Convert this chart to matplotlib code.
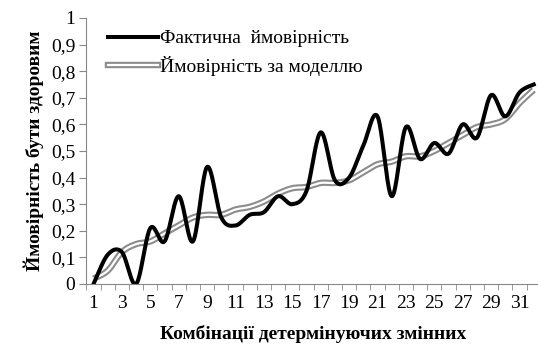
import numpy as np
import matplotlib
matplotlib.use("Agg")
import matplotlib.pyplot as plt
from matplotlib.lines import Line2D
from matplotlib.legend_handler import HandlerTuple

# combinations 1..32
combos = list(range(1, 33))
actual = [0.00, 0.11, 0.12, 0.00, 0.21, 0.16, 0.33, 0.16, 0.44, 0.25,
          0.22, 0.26, 0.27, 0.33, 0.30, 0.35, 0.57, 0.39, 0.40, 0.52,
          0.63, 0.33, 0.59, 0.47, 0.53, 0.49, 0.60, 0.55, 0.71, 0.63,
          0.72, 0.75]
model = [0.02, 0.05, 0.12, 0.15, 0.16, 0.19, 0.22, 0.25, 0.26, 0.26,
         0.28, 0.29, 0.31, 0.34, 0.36, 0.365, 0.38, 0.38, 0.39, 0.42,
         0.45, 0.46, 0.48, 0.48, 0.50, 0.53, 0.56, 0.59, 0.60, 0.62,
         0.68, 0.73]
xticks = list(range(1, 33, 2))
yticks = [0, 0.1, 0.2, 0.3, 0.4, 0.5, 0.6, 0.7, 0.8, 0.9, 1]
ylabels = ["0", "0,1", "0,2", "0,3", "0,4", "0,5", "0,6", "0,7", "0,8", "0,9", "1"]


def smooth(x, y, n=20):
    # excel-like smoothed line (bezier, tension 1/6)
    x = np.asarray(x, float)
    y = np.asarray(y, float)
    px = np.concatenate([[x[0]], x, [x[-1]]])
    py = np.concatenate([[y[0]], y, [y[-1]]])
    t = np.linspace(0, 1, n, endpoint=False)[:, None]
    outx, outy = [], []
    for i in range(1, len(px) - 2):
        p0 = np.array([px[i], py[i]])
        p3 = np.array([px[i + 1], py[i + 1]])
        c1 = p0 + (np.array([px[i + 1], py[i + 1]]) - np.array([px[i - 1], py[i - 1]])) / 6
        c2 = p3 - (np.array([px[i + 2], py[i + 2]]) - p0) / 6
        b = ((1 - t) ** 3) * p0 + 3 * ((1 - t) ** 2) * t * c1 + 3 * (1 - t) * t ** 2 * c2 + t ** 3 * p3
        outx.extend(b[:, 0])
        outy.extend(b[:, 1])
    outx.append(x[-1])
    outy.append(y[-1])
    return outx, outy


plt.rcParams['font.family'] = ['Liberation Serif', 'DejaVu Serif']

fig = plt.figure(figsize=(5.38, 3.44), dpi=100)
ax = fig.add_axes([86.4 / 538, 60 / 344, 454.4 / 538, 266 / 344])

mx, my = smooth(combos, model)
ax.plot(mx, my, color='#8c8c8c', lw=4.6, solid_capstyle='butt', zorder=2)
ax.plot(mx, my, color='white', lw=1.6, zorder=3)
axx, ayy = smooth(combos, actual)
ax.plot(axx, ayy, color='black', lw=2.9, zorder=4)

ax.set_xlim(0.5, 32.5)
ax.set_ylim(0, 1)
ax.set_yticks(yticks)
ax.set_yticklabels(ylabels, fontsize=14)
ax.set_xticks(xticks)
ax.set_xticklabels([str(v) for v in xticks], fontsize=14)
ax.set_xticks(np.arange(0.5, 33, 1), minor=True)
ax.tick_params(axis='x', which='major', length=0, pad=8)
ax.tick_params(axis='x', which='minor', length=4, color='#888888', direction='out')
ax.tick_params(axis='y', length=5, color='#888888', pad=3)
for s in ['top', 'right']:
    ax.spines[s].set_visible(False)
for s in ['left', 'bottom']:
    ax.spines[s].set_color('#888888')
    ax.spines[s].set_linewidth(0.8)

ax.set_xlabel('Комбінації детермінуючих змінних', fontsize=14, fontweight='bold', labelpad=9)
ax.set_ylabel('Ймовірність бути здоровим', fontsize=14, fontweight='bold', labelpad=5)

h1 = Line2D([], [], color='black', lw=2.9)
h2a = Line2D([], [], color='#8c8c8c', lw=4.6)
h2b = Line2D([], [], color='white', lw=1.6)
ax.legend([h1, (h2a, h2b)], ['Фактична  ймовірність', 'Ймовірність за моделлю'],
          handler_map={tuple: HandlerTuple(ndivide=1)},
          loc='upper left', bbox_to_anchor=(0.03, 0.985), frameon=False,
          fontsize=14, handlelength=2.6, handletextpad=0.1, labelspacing=0.45,
          borderaxespad=0)

fig.savefig('out.png', dpi=100)
